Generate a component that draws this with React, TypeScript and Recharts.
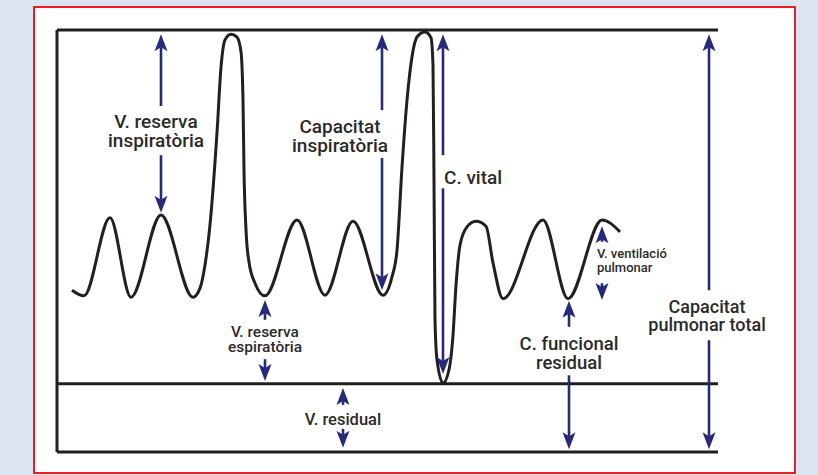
import { LineChart, Line, XAxis, YAxis, ReferenceLine, ReferenceDot } from "recharts";

// time (s) and volume (L)
const times = [
  1.5, 2.7, 5.3, 7.4, 10.4, 13.6, 14.3, 14.8, 15.3, 16.0, 16.4, 16.8, 17.4, 18.0, 18.4, 18.6, 18.7,
  18.9, 19.2, 19.8, 20.8, 24.0, 26.8, 29.6, 32.6, 33.5, 34.0, 34.5, 35.0, 35.5, 36.0, 36.8, 37.4,
  37.6, 37.7, 37.8, 38.0, 38.6, 39.2, 39.6, 39.9, 40.3, 41.0, 41.9, 42.9, 43.6, 44.6, 48.6, 51.1,
  54.5, 56.3,
];
const volumes = [
  2.3, 2.22, 3.33, 2.2, 3.37, 2.2, 2.33, 2.66, 3.23, 4.54, 5.47, 5.86, 5.94, 5.9, 5.69, 5.0, 4.01,
  3.16, 2.7, 2.4, 2.22, 3.3, 2.23, 3.28, 2.23, 2.49, 2.87, 4.05, 5.0, 5.62, 5.9, 5.97, 5.89, 5.5,
  3.87, 1.88, 1.31, 0.98, 1.17, 1.66, 2.37, 2.94, 3.2, 3.28, 3.21, 2.69, 2.18, 3.3, 2.18, 3.3,
  3.13,
];

const TLC = 6;
const RV = 0.97;

// arrows: x position, shaft start, tip
const arrowX = [10.4, 10.4, 32.5, 32.5, 38.6, 38.6, 20.8, 20.8, 28.6, 28.6, 51.2, 51.2, 65.2, 65.2, 54.5, 54.5];
const arrowFrom = [4.92, 4.22, 4.86, 4.18, 4.22, 3.75, 1.88, 1.32, 0.67, 0.33, 1.78, 1.09, 2.3, 1.59, 2.99, 2.4];
const arrowTo = [5.94, 3.4, 5.94, 2.3, 5.94, 1.11, 2.16, 1.01, 0.91, 0.06, 2.15, 0.04, 5.94, 0.04, 3.21, 2.16];

const labelText = [
  ["V. reserva", "inspiratòria"],
  ["Capacitat", "inspiratòria"],
  ["C. vital"],
  ["V. reserva", "espiratòria"],
  ["V. residual"],
  ["C. funcional", "residual"],
  ["Capacitat", "pulmonar total"],
  ["V. ventilació", "pulmonar"],
];
const labelX = [9.9, 28.3, 38.7, 20.8, 28.6, 51.2, 65.0, 54.0];
const labelY = [4.61, 4.54, 3.81, 1.64, 0.38, 1.45, 1.98, 2.76];
const labelSize = [19, 19, 19, 15.5, 16.5, 18.5, 18, 13];
const labelGap = [19, 19, 19, 15.5, 15, 18.5, 18, 14];
const labelAnchor = ["middle", "middle", "start", "middle", "middle", "middle", "middle", "start"];

const NAVY = "#262a78";
const INK = "#231f20";

const data = times.map((t, i) => ({ t, v: volumes[i] }));

function ArrowShape(props: any) {
  const { x1, y1, x2, y2 } = props;
  const dir = y2 < y1 ? -1 : 1;
  const len = 17;
  const half = 6.5;
  const notch = 4;
  const back = y2 - dir * len;
  return (
    <g>
      <line x1={x1} y1={y1} x2={x2} y2={back + dir * notch} stroke={NAVY} strokeWidth={2.6} />
      <polygon
        points={`${x2},${y2} ${x2 + half},${back} ${x2},${back + dir * notch} ${x2 - half},${back}`}
        fill={NAVY}
      />
    </g>
  );
}

function labelShape(i: number) {
  return (p: any) => (
    <text
      x={p.cx}
      y={p.cy}
      textAnchor={labelAnchor[i] as any}
      fontFamily="Roboto, sans-serif"
      fontWeight={500}
      fontSize={labelSize[i]}
      fill="#2b2a2a"
    >
      {labelText[i].map((s, k) => (
        <tspan key={k} x={p.cx} dy={k === 0 ? 0 : labelGap[i]}>
          {s}
        </tspan>
      ))}
    </text>
  );
}

export default function App() {
  return (
    <div style={{ position: "relative", width: 818, height: 475, background: "#dbe5f1" }}>
      <style>{"body{margin:0}"}</style>
      <div
        style={{
          position: "absolute",
          left: 33,
          top: 6,
          width: 763,
          height: 468,
          border: "2px solid #ee1c25",
          boxSizing: "border-box",
          background: "#fff",
        }}
      />
      <div style={{ position: "absolute", left: 0, top: 0 }}>
        <LineChart width={818} height={475} data={data} margin={{ top: 30, right: 100, bottom: 23, left: 57 }}>
          <XAxis dataKey="t" type="number" domain={[0, 66.1]} allowDataOverflow hide />
          <YAxis type="number" domain={[0, TLC]} allowDataOverflow hide />
          <ReferenceLine y={TLC} stroke={INK} strokeWidth={3} />
          <ReferenceLine y={RV} stroke={INK} strokeWidth={3} />
          <ReferenceLine y={0} stroke={INK} strokeWidth={3} />
          <ReferenceLine x={0} stroke={INK} strokeWidth={3} />
          <Line
            type="monotone"
            dataKey="v"
            stroke={INK}
            strokeWidth={3}
            dot={false}
            isAnimationActive={false}
          />
          {arrowX.map((x, i) => (
            <ReferenceLine
              key={`a${i}`}
              segment={[
                { x, y: arrowFrom[i] },
                { x, y: arrowTo[i] },
              ]}
              shape={ArrowShape}
            />
          ))}
          {labelX.map((x, i) => (
            <ReferenceDot key={`l${i}`} x={x} y={labelY[i]} r={0} shape={labelShape(i)} />
          ))}
        </LineChart>
      </div>
    </div>
  );
}
